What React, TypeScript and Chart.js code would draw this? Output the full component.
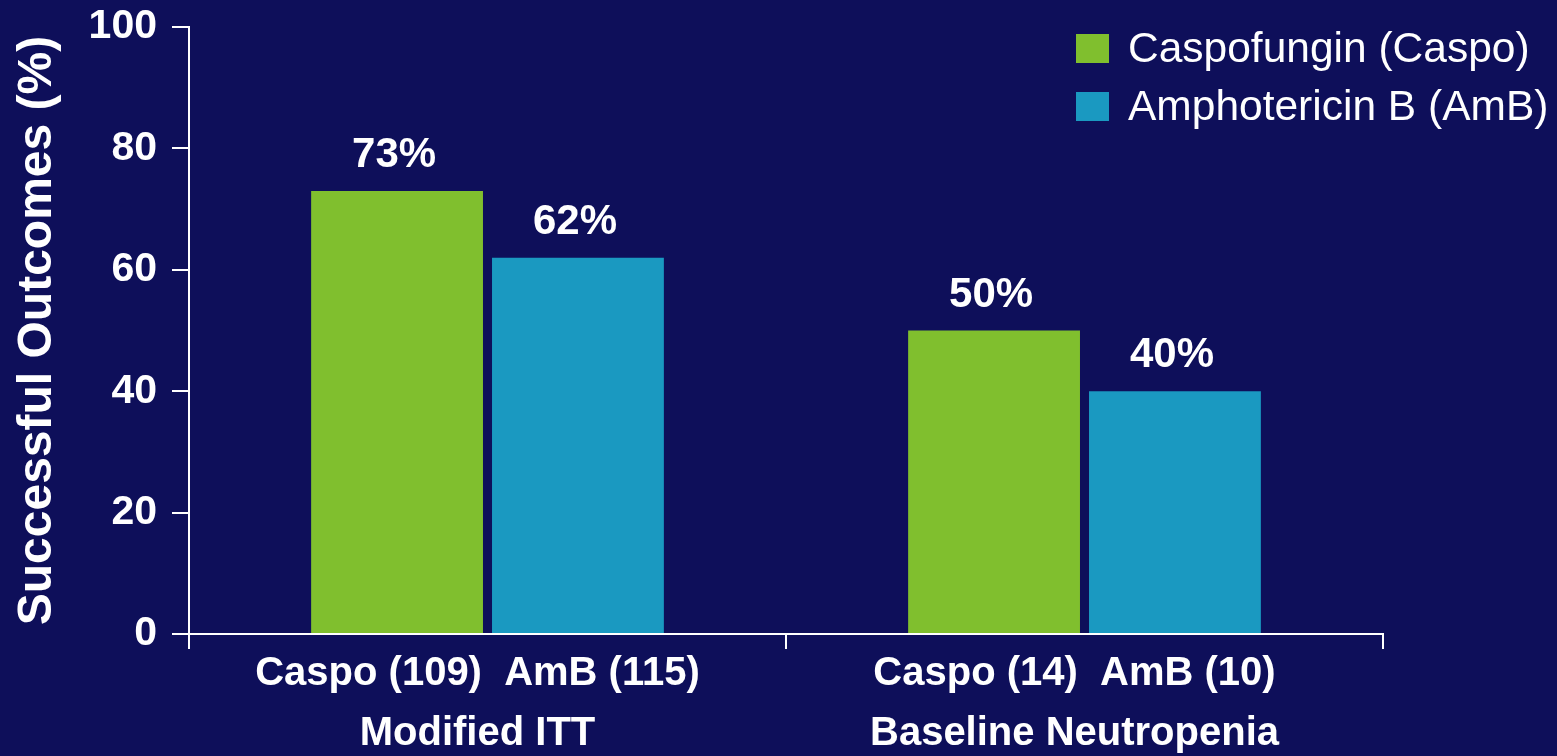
import { useEffect, useRef } from "react";
import { Chart, registerables } from "chart.js";

Chart.register(...registerables);

// Study groups shown on the x axis (two lines each: arm sizes, then population)
const groupLabels: string[][] = [
  ["Caspo (109)  AmB (115)", "Modified ITT"],
  ["Caspo (14)  AmB (10)", "Baseline Neutropenia"],
];

// Treatment arms
const seriesNames = ["Caspofungin (Caspo)", "Amphotericin B (AmB)"];

// Successful outcomes, percent
const caspoValues = [73, 50];
const ambValues = [62, 40];

// Y axis range
const yMin = 0;
const yMax = 100;
const yStep = 20;

const BG = "#0e0f5a";
const GREEN = "#80bf2e";
const BLUE = "#1a99c1";
const WHITE = "#ffffff";
const FONT = "'Liberation Sans', Arial, Helvetica, sans-serif";

// Percent labels above each bar
const valueLabels = {
  id: "valueLabels",
  afterDatasetsDraw(chart: Chart) {
    const ctx = chart.ctx;
    ctx.save();
    ctx.fillStyle = WHITE;
    ctx.font = `bold 42px ${FONT}`;
    ctx.textAlign = "center";
    ctx.textBaseline = "alphabetic";
    chart.data.datasets.forEach((ds, di) => {
      const meta = chart.getDatasetMeta(di);
      meta.data.forEach((bar: any, i: number) => {
        const v = ds.data[i] as number;
        ctx.fillText(`${v}%`, bar.x - 3, bar.y - 24);
      });
    });
    ctx.restore();
  },
};

// Legend in the top-right corner
const cornerLegend = {
  id: "cornerLegend",
  afterDraw(chart: Chart) {
    const ctx = chart.ctx;
    ctx.save();
    ctx.font = `42.5px ${FONT}`;
    ctx.textAlign = "left";
    ctx.textBaseline = "middle";
    chart.data.datasets.forEach((ds, di) => {
      const top = 34 + di * 58;
      ctx.fillStyle = ds.backgroundColor as string;
      ctx.fillRect(1076, top, 33, 29);
      ctx.fillStyle = WHITE;
      ctx.fillText(ds.label as string, 1128, top + 16);
    });
    ctx.restore();
  },
};

export default function App() {
  const canvasRef = useRef<HTMLCanvasElement | null>(null);

  useEffect(() => {
    const canvas = canvasRef.current;
    if (!canvas) return;
    const chart = new Chart(canvas, {
      type: "bar",
      data: {
        labels: groupLabels,
        datasets: [
          {
            label: seriesNames[0],
            data: caspoValues,
            backgroundColor: GREEN,
            borderWidth: 0,
            categoryPercentage: 0.606,
            barPercentage: 0.95,
          },
          {
            label: seriesNames[1],
            data: ambValues,
            backgroundColor: BLUE,
            borderWidth: 0,
            categoryPercentage: 0.606,
            barPercentage: 0.95,
          },
        ],
      },
      options: {
        responsive: false,
        animation: false,
        devicePixelRatio: 1,
        layout: { padding: { top: 27, right: 174, left: 0, bottom: 0 } },
        plugins: {
          legend: { display: false },
          tooltip: { enabled: false },
          title: { display: false },
        },
        scales: {
          x: {
            type: "category",
            offset: true,
            grid: {
              offset: true,
              drawOnChartArea: false,
              drawTicks: true,
              tickLength: 15,
              color: WHITE,
              lineWidth: 2,
            },
            border: { display: true, color: WHITE, width: 2 },
            ticks: {
              color: WHITE,
              font: { family: FONT, size: 40, weight: "bold", lineHeight: 1.5 },
              padding: -5,
              labelOffset: -10,
              maxRotation: 0,
              minRotation: 0,
              autoSkip: false,
            },
            afterFit(scale: any) {
              scale.height = 122;
            },
          },
          y: {
            min: yMin,
            max: yMax,
            grid: {
              drawOnChartArea: false,
              drawTicks: true,
              tickLength: 17,
              color: WHITE,
              lineWidth: 2,
            },
            border: { display: true, color: WHITE, width: 2 },
            ticks: {
              stepSize: yStep,
              color: WHITE,
              padding: 15,
              font: { family: FONT, size: 41, weight: "bold" },
            },
            title: {
              display: true,
              text: "Successful Outcomes (%)",
              color: WHITE,
              font: { family: FONT, size: 48, weight: "bold", lineHeight: 1.2 },
              padding: { top: 9, bottom: 0 },
            },
            afterFit(scale: any) {
              scale.width = 189;
              scale.paddingTop = 0;
              scale.paddingBottom = 0;
            },
          },
        },
      },
      plugins: [valueLabels, cornerLegend],
    });
    return () => chart.destroy();
  }, []);

  return (
    <div
      style={{
        position: "fixed",
        left: 0,
        top: 0,
        width: 1557,
        height: 756,
        background: BG,
        overflow: "hidden",
      }}
    >
      <canvas ref={canvasRef} width={1557} height={756} style={{ display: "block" }} />
    </div>
  );
}
